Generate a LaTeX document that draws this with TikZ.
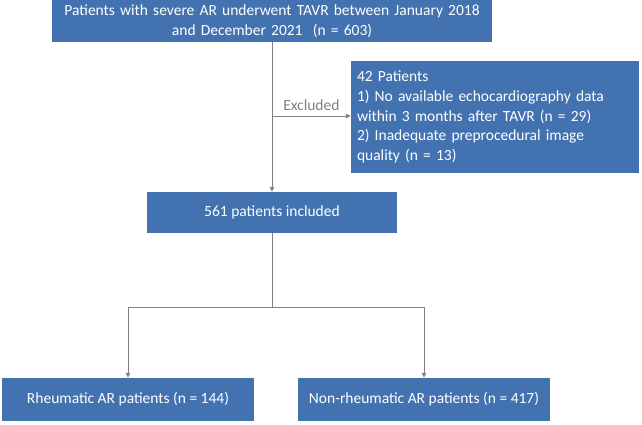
\documentclass[tikz,border=0pt]{standalone}
\usepackage{fontspec}
\setmainfont{Carlito}
\usetikzlibrary{arrows.meta}
\definecolor{boxblue}{RGB}{67,114,176}
\definecolor{linegray}{RGB}{128,128,128}
\begin{document}
\begin{tikzpicture}[x=1pt,y=-1pt,
  bluebox/.style={fill=boxblue,draw=none,text=white,inner sep=0pt,
    font=\fontsize{15.5}{19.8}\selectfont,align=center},
  conn/.style={draw=linegray,line width=0.9pt},
  arr/.style={conn,-{Triangle[length=5pt,width=4.5pt]}}]
\useasboundingbox[fill=white] (0,0) rectangle (642,425);
\node[bluebox,minimum width=440pt,minimum height=42pt,text width=430pt] (top) at (272,21)
  {Patients with severe AR underwent TAVR between January 2018\\and December 2021~ (n = 603)};
\node[bluebox,minimum width=288pt,minimum height=112pt,text width=276pt,align=left] (excl) at (495,117)
  {42 Patients\\1) No available echocardiography data\\within 3 months after TAVR (n = 29)\\2) Inadequate preprocedural image\\quality (n = 13)};
\node[bluebox,minimum width=250pt,minimum height=41pt] (inc) at (272,212.5) {561 patients included};
\node[bluebox,minimum width=252pt,minimum height=43pt] (rh) at (128,399.5) {Rheumatic AR patients (n = 144)};
\node[bluebox,minimum width=252pt,minimum height=43pt] (nr) at (424,399.5) {Non-rheumatic AR patients (n = 417)};
\coordinate (br) at (272,116);
\coordinate (sp) at (272,307);
\draw[arr] (top.south) -- (inc.north);
\draw[arr] (br) -- (br -| excl.west) node[midway,above=2pt,text=linegray,font=\fontsize{15.5}{19.8}\selectfont] (exl) {Excluded};
\draw[conn] (inc.south) -- (sp);
\draw[arr] (sp) -| (rh.north);
\draw[arr] (sp) -| (nr.north);
\end{tikzpicture}
\end{document}
